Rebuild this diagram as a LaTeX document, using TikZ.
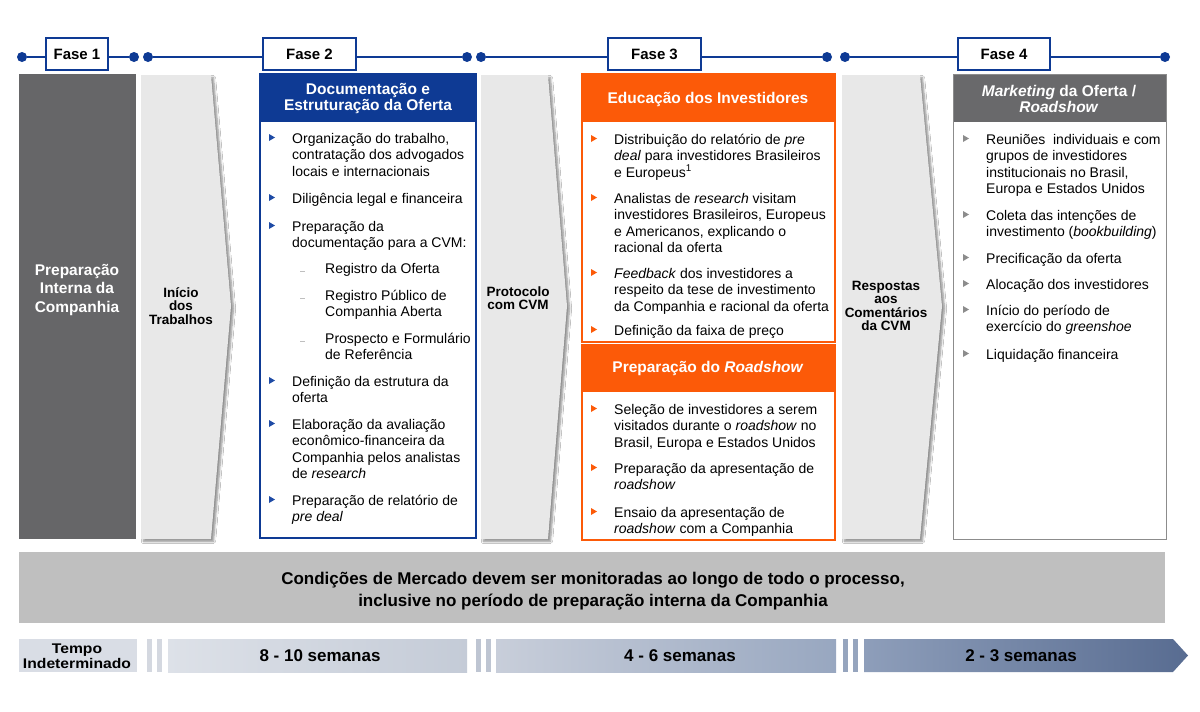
\documentclass[tikz,border=0pt]{standalone}
\usepackage{fontspec}
\setmainfont{Liberation Sans}
\usetikzlibrary{shadows.blur}
\definecolor{navy}{RGB}{14,58,148}
\definecolor{bblue}{RGB}{30,75,165}
\definecolor{orng}{RGB}{252,90,8}
\definecolor{dgrey}{RGB}{102,102,104}
\definecolor{hgrey}{RGB}{105,105,107}
\definecolor{bgrey}{RGB}{140,140,140}
\definecolor{arrfill}{RGB}{232,232,232}
\definecolor{bargrey}{RGB}{191,191,191}
\definecolor{tempo}{RGB}{217,221,229}
\definecolor{pa}{RGB}{212,216,224}
\definecolor{pb}{RGB}{190,197,210}
\definecolor{pc}{RGB}{150,165,190}
\definecolor{g1l}{RGB}{221,225,232}
\definecolor{g1r}{RGB}{196,203,215}
\definecolor{g2l}{RGB}{200,206,218}
\definecolor{g2r}{RGB}{152,167,192}
\definecolor{g3l}{RGB}{142,158,186}
\definecolor{g3r}{RGB}{88,108,145}
\newcommand\bitm[5]{%
  \fill[#4] (#2-3,#3-9) -- ++(6,3.5) -- ++(-6,3.5) -- cycle;
  \node[txt, anchor=north west] (#1) at (#2+20,#3-11.55) {\strut #5};}
\newcommand\subitm[4]{%
  \draw[black!25, line width=0.8pt] (#2,#3-2) -- ++(5,0);
  \node[txt, anchor=north west] (#1) at (#2+25,#3-11.55) {\strut #4};}
\begin{document}
\begin{tikzpicture}[x=1pt,y=-1pt,
  txt/.style={font=\fontsize{14}{16.5}\selectfont, align=left, inner sep=0pt, text=black},
  hdr/.style={font=\fontsize{15.5}{16}\selectfont\bfseries, text=white, align=center, inner sep=0pt},
  dot/.style={circle, fill=navy, inner sep=0pt, minimum size=10pt},
  tl/.style={navy, line width=2pt},
  fase/.style={draw=navy, line width=1.2pt, fill=white, minimum height=32pt, font=\fontsize{15}{18}\selectfont\bfseries, inner sep=0pt},
  arrtxt/.style={font=\fontsize{13.5}{13.5}\selectfont\bfseries, align=center, inner sep=0pt},
  arr/.style={fill=arrfill, blur shadow={shadow xshift=2.5pt, shadow yshift=-2.5pt, shadow blur steps=6, shadow opacity=45}},
  semtxt/.style={font=\fontsize{17}{18}\selectfont\bfseries, inner sep=0pt}
]
\useasboundingbox (0,0) rectangle (1200,712);
\fill[white] (0,0) rectangle (1200,712);

% ---------- top timeline ----------
\node[dot] (t1a) at (22,57) {};
\node[dot] (t1b) at (134,57) {};
\node[dot] (t2a) at (148,57) {};
\node[dot] (t2b) at (467,57) {};
\node[dot] (t3a) at (481,57) {};
\node[dot] (t3b) at (827,57) {};
\node[dot] (t4a) at (845,57) {};
\node[dot] (t4b) at (1165,57) {};
\draw[tl] (t1a) -- (t1b);
\draw[tl] (t2a) -- (t2b);
\draw[tl] (t3a) -- (t3b);
\draw[tl] (t4a) -- (t4b);
\node[fase, minimum width=62pt] (f1) at (77,54) {Fase 1};
\node[fase, minimum width=93pt] (f2) at (309.5,54) {Fase 2};
\node[fase, minimum width=93pt] (f3) at (654.5,54) {Fase 3};
\node[fase, minimum width=92pt] (f4) at (1004,54) {Fase 4};

% ---------- column 1 ----------
\fill[dgrey] (19,74) rectangle (136,539);
\node[font=\fontsize{15.5}{18.5}\selectfont\bfseries, text=white, align=center, inner sep=0pt] (prep) at (77,290) {Preparação\\Interna da\\Companhia};

% ---------- arrows ----------
\path[arr] (141,75) -- (211,75) -- (231,306) -- (211,539) -- (141,539) -- cycle;
\node[arrtxt] (ini) at (181,306) {Início\\dos\\Trabalhos};
\path[arr] (481,75) -- (548,75) -- (567,306) -- (548,539) -- (481,539) -- cycle;
\node[arrtxt] (prot) at (518,298) {Protocolo\\com CVM};
\path[arr] (842,75) -- (920,75) -- (942,306) -- (920,539) -- (842,539) -- cycle;
\node[arrtxt] (resp) at (886,306) {Respostas\\aos\\Comentários\\da CVM};

% ---------- Fase 2 box ----------
\fill[navy] (260,74) rectangle (476,122);
\draw[navy, line width=1.5pt] (260,74) rectangle (476,538);
\node[hdr] (h2) at (368,99) {Documentação e\\Estruturação da Oferta};
\bitm{a1}{272}{143}{bblue}{Organização do trabalho,\\contratação dos advogados\\locais e internacionais}
\bitm{a2}{272}{203}{bblue}{Diligência legal e financeira}
\bitm{a3}{272}{231}{bblue}{Preparação da\\documentação para a CVM:}
\subitm{a3a}{300}{273}{Registro da Oferta}
\subitm{a3b}{300}{300}{Registro Público de\\Companhia Aberta}
\subitm{a3c}{300}{343}{Prospecto e Formulário\\de Referência}
\bitm{a4}{272}{386}{bblue}{Definição da estrutura da\\oferta}
\bitm{a5}{272}{429}{bblue}{Elaboração da avaliação\\econômico-financeira da\\Companhia pelos analistas\\de \textit{research}}
\bitm{a6}{272}{505}{bblue}{Preparação de relatório de\\\textit{pre deal}}

% ---------- Fase 3 boxes ----------
\fill[orng] (582,74) rectangle (835,122);
\draw[orng, line width=1.2pt] (582,74) rectangle (835,342);
\fill[orng] (582,345) rectangle (835,392);
\draw[orng, line width=1.2pt] (582,345) rectangle (835,540);
\node[hdr] (h3a) at (708,99) {Educação dos Investidores};
\node[hdr] (h3b) at (708,368) {Preparação do \textit{Roadshow}};
\bitm{b1}{594}{144}{orng}{Distribuição do relatório de \textit{pre}\\\textit{deal} para investidores Brasileiros\\e Europeus\textsuperscript{1}}
\bitm{b2}{594}{203}{orng}{Analistas de \textit{research} visitam\\investidores Brasileiros, Europeus\\e Americanos, explicando o\\racional da oferta}
\bitm{b3}{594}{278}{orng}{\textit{Feedback} dos investidores a\\respeito da tese de investimento\\da Companhia e racional da oferta}
\bitm{b4}{594}{335}{orng}{Definição da faixa de preço}
\bitm{c1}{594}{414}{orng}{Seleção de investidores a serem\\visitados durante o \textit{roadshow} no\\Brasil, Europa e Estados Unidos}
\bitm{c2}{594}{473}{orng}{Preparação da apresentação de\\\textit{roadshow}}
\bitm{c3}{594}{517}{orng}{Ensaio da apresentação de\\\textit{roadshow} com a Companhia}

% ---------- Fase 4 box ----------
\fill[hgrey] (953,74) rectangle (1166,122);
\draw[bgrey, line width=1pt] (953,74) rectangle (1166,539);
\node[hdr] (h4) at (1059,99) {\textit{Marketing} da Oferta /\\\textit{Roadshow}};
\bitm{d1}{966}{144}{bgrey}{Reuniões\ \ individuais e com\\grupos de investidores\\institucionais no Brasil,\\Europa e Estados Unidos}
\bitm{d2}{966}{220}{bgrey}{Coleta das intenções de\\investimento (\textit{bookbuilding})}
\bitm{d3}{966}{263}{bgrey}{Precificação da oferta}
\bitm{d4}{966}{289}{bgrey}{Alocação dos investidores}
\bitm{d5}{966}{315}{bgrey}{Início do período de\\exercício do \textit{greenshoe}}
\bitm{d6}{966}{359}{bgrey}{Liquidação financeira}

% ---------- market conditions bar ----------
\fill[bargrey] (19,552) rectangle (1165,623);
\node[font=\fontsize{17}{21.5}\selectfont\bfseries, align=center, inner sep=0pt] (cond) at (593,591) {Condições de Mercado devem ser monitoradas ao longo de todo o processo,\\inclusive no período de preparação interna da Companhia};

% ---------- bottom time bar ----------
\fill[tempo] (19,639) rectangle (137,672);
\node[font=\fontsize{14}{15.5}\selectfont\bfseries, align=center, inner sep=0pt] (tmp) at (77,656) {\scalebox{1.12}[1]{Tempo}\\\scalebox{1.12}[1]{Indeterminado}};
\fill[pa] (147,639) rectangle (152,672);
\fill[pa] (157,639) rectangle (162,672);
\path[left color=g1l, right color=g1r] (168,639) rectangle (467,672);
\node[semtxt] (s1) at (320,655.5) {8 - 10 semanas};
\fill[pb] (476,639) rectangle (481,672);
\fill[pb] (486,639) rectangle (491,672);
\path[left color=g2l, right color=g2r] (496,639) rectangle (836,672);
\node[semtxt] (s2) at (680,655.5) {4 - 6 semanas};
\fill[pc] (843,639) rectangle (848,672);
\fill[pc] (853,639) rectangle (858,672);
\path[left color=g3l, right color=g3r] (864,639) -- (1173,639) -- (1188,655.5) -- (1173,672) -- (864,672) -- cycle;
\node[semtxt] (s3) at (1021,655.5) {2 - 3 semanas};
\end{tikzpicture}
\end{document}
